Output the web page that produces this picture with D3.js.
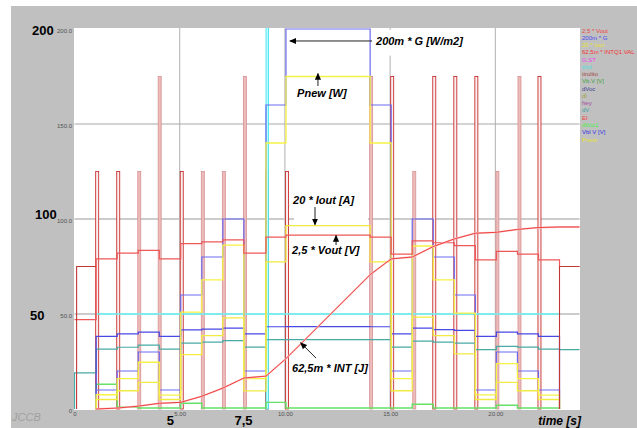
<!DOCTYPE html>
<html>
<head>
<meta charset="utf-8">
<script src="https://cdn.jsdelivr.net/npm/d3@7/dist/d3.min.js"></script>
<style>
  body { margin: 0; background: #fff; }
  text { font-family: "Liberation Sans", Arial, sans-serif; }
</style>
</head>
<body>
<div id="chart"></div>
<script>
// step boundaries in seconds, one value per interval between them
var bounds = [0, 1.03, 2.03, 3.03, 4.03, 5.05, 6.05, 7.05, 8.05, 9.1, 10.05, 14.05, 15.05, 16.05, 17.05, 18.05, 19.05, 20.05, 21.05, 22.05, 23.05, 24];

var gSeries    = [null, 10, 20, 30, 10, 60, 80, 100, 20, 160, 200, 160, 20, 100, 80, 60, 10, 30, 20, 10, null];
var vblSeries  = [null, 38.2, 39.5, 40.5, 38.2, 41.6, 42, 42.6, 39.5, 43.3, 43.4, 43.3, 39.5, 42.6, 41.8, 41.4, 38.2, 40.5, 39.5, 38.2, null];
var ioutSeries = [null, 5, 9.6, 14, 5, 28.6, 38.6, 48, 9.5, 77.4, 96.5, 77.4, 9.6, 48.4, 38.6, 29, 5, 14, 9.6, 5, null];
var pnewSeries = [null, 7.5, 16, 24.6, 7.3, 51, 68, 86.3, 16, 140, 175, 140, 16, 85.8, 68, 50.5, 7.4, 23.9, 16, 7.3, null];
var voutSeries = [47, 79, 82, 83.5, 79, 87, 88, 89, 82, 90.5, 91.5, 90.5, 81.5, 88.5, 87.5, 86, 78.5, 83, 81.5, 78.5, 75];
var dvSeries   = [19, 31.5, 32.5, 33.6, 31.5, 34.7, 35.2, 36, 32.6, 36.5, 36.5, 36.5, 32.6, 35.7, 35.2, 34.7, 31.2, 33, 32.6, 31.5, 31.2];
var dvoc1Series = [null, 13, 1, 0.5, 0.5, 3, 0.5, 0.5, 0.5, 3.5, 0.5, 0.5, 0.5, 2.5, 0.5, 0.5, 0.5, 2, 0.5, 0.5, null];
var tirolSeries = [null, 50, 50, 50, 50, 50, 50, 50, 50, 50, 50, 50, 50, 50, 50, 50, 50, 50, 50, 50, null];

// dark red blocks at start and end
var eiStart = [0.1, 23.05];
var eiEnd = [1.03, 24];
var eiValue = [75, 75];

// integral curve
var intT = [1.03, 2.03, 3.03, 4.03, 5.05, 6.05, 7.05, 8.05, 9.1, 10.05, 14.05, 15.05, 16.05, 17.05, 18.05, 19.05, 20.05, 21.05, 22.05, 23.05, 24];
var intV = [0, 0.5, 1.5, 3, 3.5, 6.7, 11, 16.3, 17.3, 26.5, 70.7, 79, 80, 85.5, 89.5, 92.5, 93, 94.5, 95.5, 95.8, 95.8];

// pulses
var pulseLineT = [1.03, 2.03, 5.05, 9.1, 10.05, 15.05, 17.05, 18.05, 19.05, 22.05];
var pulseLineV = [125, 125, 125, 125, 125, 175, 175, 175, 175, 175];
var pulseFillT = [3.03, 4.0, 6.05, 7.05, 8.05, 14.05, 16.1, 20.05, 21.1];
var pulseFillV = [125, 175, 125, 125, 175, 175, 125, 125, 175];
var tirolPulseT = [9.15];

var yTicks = [0, 50, 100, 150, 200];
var xTicks = [0, 5, 10, 15, 20];

var legendLabels = ["2,5 * Vout", "200m * G", "20 * Iout", "62,5m * INTQ1.VAL", "G.ST", "tirol", "tirolito",
  "Vb.V [V]", "dVoc", "dI", "hey", "dV", "EI", "dVoc1", "Vbl V [V]", "Pnew"];
var legendColors = ["#f04040", "#4848f0", "#e8e030", "#f03030", "#f040f0", "#40e0e0", "#a04848",
  "#40a040", "#404090", "#a0a040", "#a048a0", "#40a0a0", "#f04040", "#40f040", "#3030e0", "#e8e030"];

var width = 637, height = 428;

var svg = d3.select("#chart").append("svg")
    .attr("width", width)
    .attr("height", height);

var x = d3.scaleLinear().domain([0, 24]).range([74.5, 579.5]);
var y = d3.scaleLinear().domain([0, 200]).range([409, 29]);

// backgrounds
svg.append("rect").attr("x", 11).attr("y", 6).attr("width", width - 11).attr("height", height - 6)
    .attr("fill", "#c0c0c0");
svg.append("rect").attr("x", 74).attr("y", 28).attr("width", 506).attr("height", 382)
    .attr("fill", "#ffffff");

svg.append("clipPath").attr("id", "clip")
  .append("rect").attr("x", 74).attr("y", 28).attr("width", 506).attr("height", 382);

var plot = svg.append("g").attr("clip-path", "url(#clip)");

// grid
plot.selectAll(".vgrid").data([5, 10, 15, 20]).enter().append("line")
    .attr("x1", function(d) { return x(d); }).attr("x2", function(d) { return x(d); })
    .attr("y1", y(0)).attr("y2", y(205))
    .attr("stroke", "#b0b0b0").attr("stroke-width", 1);
plot.append("line").attr("x1", x(0)).attr("x2", x(24)).attr("y1", y(150)).attr("y2", y(150))
    .attr("stroke", "#a8a8a8").attr("stroke-width", 1);
plot.selectAll(".hgrid").data([100, 50]).enter().append("line")
    .attr("x1", x(0)).attr("x2", x(24))
    .attr("y1", function(d) { return y(d); }).attr("y2", function(d) { return y(d); })
    .attr("stroke", "#cccccc").attr("stroke-width", 2);

// pulses
var pw = 3;
plot.selectAll(".pfill").data(pulseFillT).enter().append("rect")
    .attr("x", function(d) { return x(d) - 0.5; })
    .attr("y", function(d, i) { return y(pulseFillV[i]); })
    .attr("width", pw)
    .attr("height", function(d, i) { return y(0) - y(pulseFillV[i]); })
    .attr("fill", "#ecbcbc").attr("stroke", "#d89090").attr("stroke-width", 0.8);
plot.selectAll(".pline").data(pulseLineT).enter().append("rect")
    .attr("x", function(d) { return x(d) - 0.5; })
    .attr("y", function(d, i) { return y(pulseLineV[i]); })
    .attr("width", pw)
    .attr("height", function(d, i) { return y(0) - y(pulseLineV[i]); })
    .attr("fill", "#fbeeee").attr("stroke", "#c83030").attr("stroke-width", 0.9);
plot.selectAll(".tpulse").data(tirolPulseT).enter().append("rect")
    .attr("x", function(d) { return x(d) - 1; })
    .attr("y", y(210))
    .attr("width", 2.5)
    .attr("height", y(0) - y(210))
    .attr("fill", "#b8ffff").attr("stroke", "#48e4f0").attr("stroke-width", 0.9);

function stepPoints(vals, drop) {
  var pts = [];
  vals.forEach(function(v, i) {
    if (v == null) { pts.push(null); return; }
    var prev = i > 0 ? vals[i - 1] : null;
    if (drop && prev == null) pts.push({t: bounds[i], v: 0});
    pts.push({t: bounds[i], v: v}, {t: bounds[i + 1], v: v});
    var next = i < vals.length - 1 ? vals[i + 1] : null;
    if (drop && next == null && i < vals.length - 1) pts.push({t: bounds[i + 1], v: 0});
  });
  return pts;
}

var line = d3.line()
    .defined(function(d) { return d != null; })
    .x(function(d) { return x(d.t); })
    .y(function(d) { return y(d.v); });

var steps = [
  {vals: tirolSeries, color: "#68f4f4", drop: false, w: 1.5},
  {vals: dvoc1Series, color: "#66e066", drop: true, w: 1.4},
  {vals: dvSeries, color: "#48aaa4", drop: true, w: 1.2},
  {vals: vblSeries, color: "#4848e4", drop: true, w: 1.2},
  {vals: gSeries, color: "#6a6af2", drop: true, w: 1.2},
  {vals: ioutSeries, color: "#f2ea40", drop: true, w: 1.3},
  {vals: pnewSeries, color: "#f6f244", drop: true, w: 1.3},
  {vals: voutSeries, color: "#ee5858", drop: false, w: 1.2}
];

steps.forEach(function(s) {
  plot.append("path")
      .datum(stepPoints(s.vals, s.drop))
      .attr("d", line)
      .attr("fill", "none")
      .attr("stroke", s.color)
      .attr("stroke-width", s.w);
});

// dark red blocks
eiStart.forEach(function(t0, i) {
  plot.append("path")
      .datum([{t: t0, v: 0}, {t: t0, v: eiValue[i]}, {t: eiEnd[i], v: eiValue[i]}])
      .attr("d", line)
      .attr("fill", "none")
      .attr("stroke", "#c03838")
      .attr("stroke-width", 1.1);
});

// integral
var intPts = intT.map(function(t, i) { return {t: t, v: intV[i]}; });
plot.append("path").datum(intPts).attr("d", line)
    .attr("fill", "none").attr("stroke", "#f8c4c4").attr("stroke-width", 1.8);
plot.append("path").datum(intPts).attr("d", line)
    .attr("fill", "none").attr("stroke", "#f03030").attr("stroke-width", 0.9);

// annotation boxes
var boxes = [
  {t0: 14.2, t1: 18.6, v0: 186, v1: 199.5},
  {t0: 10.43, t1: 13.95, v0: 98.5, v1: 115}
];
svg.selectAll(".abox").data(boxes).enter().append("rect")
    .attr("x", function(d) { return x(d.t0); })
    .attr("y", function(d) { return y(d.v1); })
    .attr("width", function(d) { return x(d.t1) - x(d.t0); })
    .attr("height", function(d) { return y(d.v0) - y(d.v1); })
    .attr("fill", "#ffffff");

// arrows
var defs = svg.append("defs");
defs.append("marker").attr("id", "arr")
    .attr("viewBox", "0 0 8 8").attr("refX", 7).attr("refY", 4)
    .attr("markerWidth", 7).attr("markerHeight", 7).attr("markerUnits", "userSpaceOnUse")
    .attr("orient", "auto")
  .append("path").attr("d", "M0,0.5 L8,4 L0,7.5 z").attr("fill", "#000");

var arrows = [
  {t0: 14.14, v0: 193.7, t1: 10.24, v1: 193.7},
  {t0: 11.57, v0: 170, t1: 11.57, v1: 176.5},
  {t0: 11.43, v0: 106.3, t1: 11.43, v1: 97},
  {t0: 12.43, v0: 86.3, t1: 12.43, v1: 91.3},
  {t0: 11.48, v0: 26.8, t1: 10.75, v1: 34.8}
];
svg.selectAll(".arrow").data(arrows).enter().append("line")
    .attr("x1", function(d) { return x(d.t0); }).attr("y1", function(d) { return y(d.v0); })
    .attr("x2", function(d) { return x(d.t1); }).attr("y2", function(d) { return y(d.v1); })
    .attr("stroke", "#202020").attr("stroke-width", 1)
    .attr("marker-end", "url(#arr)");

var notes = [
  {t: 14.33, v: 191.6, text: "200m * G [W/m2]"},
  {t: 10.58, v: 164.2, text: "Pnew [W]"},
  {t: 10.39, v: 107.9, text: "20 * Iout [A]"},
  {t: 10.34, v: 81.6, text: "2,5 * Vout [V]"},
  {t: 10.34, v: 19.5, text: "62,5m * INT [J]"}
];
svg.selectAll(".note").data(notes).enter().append("text")
    .attr("x", function(d) { return x(d.t); })
    .attr("y", function(d) { return y(d.v); })
    .attr("font-size", 11).attr("font-weight", "bold").attr("font-style", "italic")
    .attr("fill", "#000")
    .text(function(d) { return d.text; });

// axes
var yAxis = d3.axisLeft(y).tickValues(yTicks).tickSize(0).tickPadding(2)
    .tickFormat(function(d) { return d === 0 ? "0" : d.toFixed(1); });
var gy = svg.append("g").attr("transform", "translate(74,2)").call(yAxis);
gy.select(".domain").remove();
gy.selectAll("text").attr("font-size", 6).attr("fill", "#505050")
    .attr("font-family", "'Liberation Sans', Arial, sans-serif");

var xAxis = d3.axisBottom(x).tickValues(xTicks).tickSize(0).tickPadding(3)
    .tickFormat(function(d) { return d === 0 ? "0" : d.toFixed(2); });
var gx = svg.append("g").attr("transform", "translate(0,409)").call(xAxis);
gx.select(".domain").remove();
gx.selectAll("text").attr("font-size", 6).attr("fill", "#505050")
    .attr("font-family", "'Liberation Sans', Arial, sans-serif");

// big labels
var bigY = [{v: 199.2, text: "200", x: 32}, {v: 102.6, text: "100", x: 35}, {v: 49.2, text: "50", x: 30}];
svg.selectAll(".bigy").data(bigY).enter().append("text")
    .attr("x", function(d) { return d.x; })
    .attr("y", function(d) { return y(d.v) + 4.5; })
    .attr("font-family", "'Liberation Serif', 'Times New Roman', serif")
    .attr("font-size", 13).attr("font-weight", "bold")
    .text(function(d) { return d.text; });

var bigX = [{t: 4.56, text: "5"}, {t: 8.03, text: "7,5"}];
svg.selectAll(".bigx").data(bigX).enter().append("text")
    .attr("x", function(d) { return x(d.t); })
    .attr("y", 424.5)
    .attr("text-anchor", "middle")
    .attr("font-family", "'Liberation Serif', 'Times New Roman', serif")
    .attr("font-size", 13).attr("font-weight", "bold")
    .text(function(d) { return d.text; });

svg.append("text").attr("x", 581).attr("y", 425).attr("text-anchor", "end")
    .attr("font-size", 12).attr("font-weight", "bold").attr("font-style", "italic")
    .text("time [s]");

svg.append("text").attr("x", 12).attr("y", 420.5)
    .attr("font-size", 11).attr("font-style", "italic").attr("fill", "#a0a0a0")
    .text("JCCB");

// legend
svg.selectAll(".leg").data(legendLabels).enter().append("text")
    .attr("x", 582)
    .attr("y", function(d, i) { return 32.5 + i * 7.27; })
    .attr("font-size", 6)
    .attr("fill", function(d, i) { return legendColors[i]; })
    .text(function(d) { return d; });
</script>
</body>
</html>
